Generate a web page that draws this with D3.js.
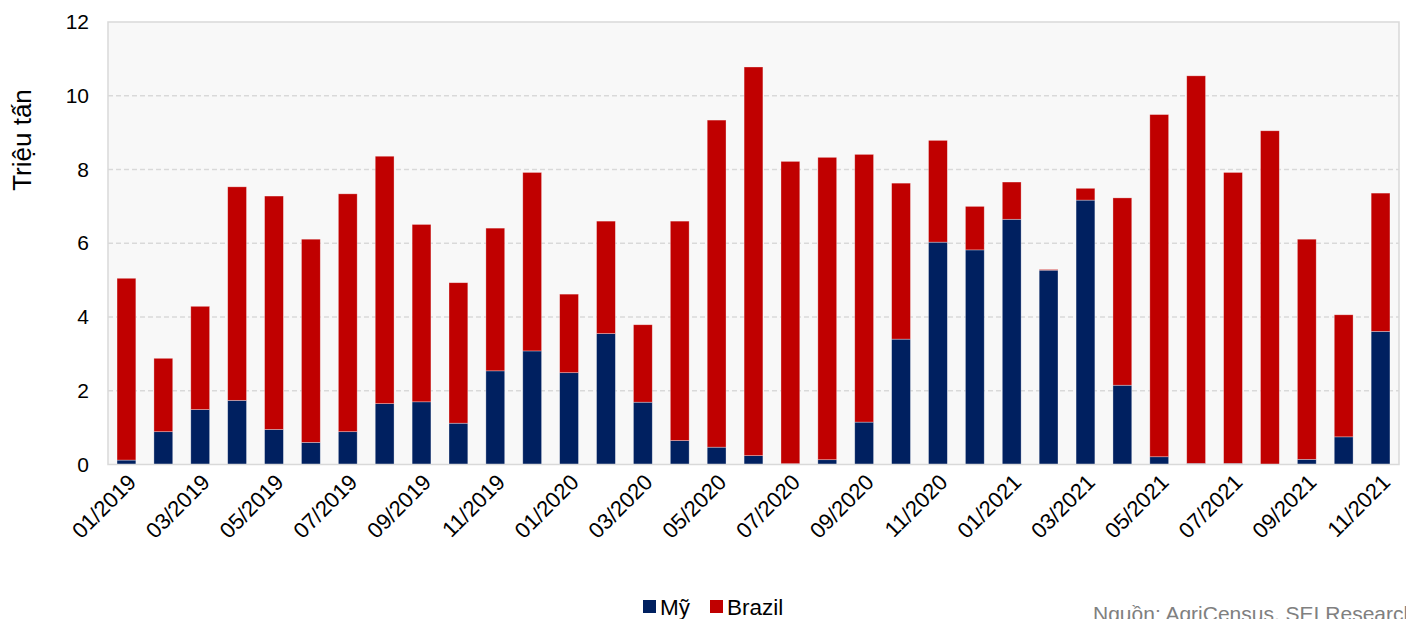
<!DOCTYPE html>
<html>
<head>
<meta charset="utf-8">
<script src="https://cdn.jsdelivr.net/npm/d3@7"></script>
<style>
  body { margin: 0; background: #fff; }
  svg { font-family: 'Liberation Sans', Arial, sans-serif; }
</style>
</head>
<body>
<svg id="chart" width="1406" height="619"></svg>
<script>
const months = [
  '01/2019','02/2019','03/2019','04/2019','05/2019','06/2019','07/2019','08/2019','09/2019','10/2019','11/2019','12/2019',
  '01/2020','02/2020','03/2020','04/2020','05/2020','06/2020','07/2020','08/2020','09/2020','10/2020','11/2020','12/2020',
  '01/2021','02/2021','03/2021','04/2021','05/2021','06/2021','07/2021','08/2021','09/2021','10/2021','11/2021'
];
const usValues = [
  0.12, 0.89, 1.49, 1.74, 0.95, 0.60, 0.89, 1.65, 1.70, 1.12, 2.54, 3.08,
  2.49, 3.55, 1.69, 0.65, 0.47, 0.24, 0.02, 0.13, 1.15, 3.40, 6.03, 5.82,
  6.65, 5.27, 7.17, 2.15, 0.21, 0.03, 0.03, 0.00, 0.14, 0.75, 3.61
];
const brazilValues = [
  4.93, 1.99, 2.80, 5.79, 6.33, 5.51, 6.45, 6.71, 4.81, 3.81, 3.87, 4.84,
  2.13, 3.05, 2.10, 5.95, 8.87, 10.54, 8.20, 8.20, 7.26, 4.23, 2.76, 1.18,
  1.01, 0.02, 0.32, 5.08, 9.28, 10.51, 7.89, 9.05, 5.97, 3.31, 3.75
];
const seriesNames = ['Mỹ', 'Brazil'];
const seriesColors = ['#002060', '#C00000'];
const yTicks = [0, 2, 4, 6, 8, 10, 12];

const svg = d3.select('#chart');
const margin = { top: 22, right: 7, bottom: 154, left: 108 };
const w = 1406, h = 619;

const table = months.map((m, i) => ({ month: m, us: usValues[i], brazil: brazilValues[i] }));
const stack = d3.stack().keys(['us', 'brazil'])(table);

const x = d3.scaleBand()
  .domain(months)
  .range([margin.left, w - margin.right])
  .paddingInner(0.49)
  .paddingOuter(0.245);
const y = d3.scaleLinear()
  .domain([0, 12])
  .range([h - margin.bottom - 0.5, margin.top]);

// plot background
svg.append('rect')
  .attr('x', margin.left)
  .attr('y', margin.top)
  .attr('width', w - margin.left - margin.right)
  .attr('height', y(0) - margin.top)
  .attr('fill', '#f8f8f8');

// grid lines
svg.append('g')
  .selectAll('line')
  .data(yTicks.filter(d => d > 0 && d < 12))
  .join('line')
  .attr('x1', margin.left)
  .attr('x2', w - margin.right)
  .attr('y1', d => y(d))
  .attr('y2', d => y(d))
  .attr('stroke', '#d9d9d9')
  .attr('stroke-width', 1.3)
  .attr('stroke-dasharray', '5,3');

// bars
svg.append('g')
  .selectAll('g')
  .data(stack)
  .join('g')
  .attr('fill', (d, i) => seriesColors[i])
  .selectAll('rect')
  .data(d => d)
  .join('rect')
  .attr('x', d => x(d.data.month))
  .attr('y', d => y(d[1]))
  .attr('width', x.bandwidth())
  .attr('height', d => Math.max(0, y(d[0]) - y(d[1])))
  .attr('stroke', 'rgba(255,255,255,0.45)')
  .attr('stroke-width', 0.7);

// frame
svg.append('rect')
  .attr('x', margin.left)
  .attr('y', margin.top)
  .attr('width', w - margin.left - margin.right)
  .attr('height', y(0) - margin.top)
  .attr('fill', 'none')
  .attr('stroke', '#d9d9d9')
  .attr('stroke-width', 1.5);

// y axis
const yAxis = svg.append('g')
  .attr('transform', `translate(${margin.left}, 0)`)
  .call(d3.axisLeft(y).tickValues(yTicks).tickSize(0).tickPadding(19));
yAxis.select('.domain').remove();
yAxis.selectAll('text')
  .attr('font-family', "'Liberation Sans', Arial, sans-serif")
  .attr('font-size', 21)
  .attr('fill', '#000');

svg.append('text')
  .attr('transform', `translate(31, 140) rotate(-90)`)
  .attr('text-anchor', 'middle')
  .attr('font-size', 26)
  .attr('fill', '#000')
  .text('Triệu tấn');

// x axis
const xAxis = svg.append('g')
  .attr('transform', `translate(0, ${y(0)})`)
  .call(d3.axisBottom(x)
    .tickValues(months.filter((d, i) => i % 2 === 0))
    .tickSize(0)
    .tickPadding(0));
xAxis.select('.domain').remove();
xAxis.selectAll('text')
  .attr('font-family', "'Liberation Sans', Arial, sans-serif")
  .attr('font-size', 22)
  .attr('fill', '#000')
  .attr('text-anchor', 'end')
  .attr('dy', 0)
  .attr('transform', 'translate(11, 19) rotate(-45)');

// legend
const legend = svg.append('g').attr('transform', 'translate(643, 598)');
const legendX = [0, 67];
legend.selectAll('rect')
  .data(seriesNames)
  .join('rect')
  .attr('x', (d, i) => legendX[i])
  .attr('y', 2)
  .attr('width', 13)
  .attr('height', 13)
  .attr('fill', (d, i) => seriesColors[i]);
legend.selectAll('text')
  .data(seriesNames)
  .join('text')
  .attr('x', (d, i) => legendX[i] + 17)
  .attr('y', 17)
  .attr('font-size', 22.5)
  .attr('fill', '#000')
  .text(d => d);

svg.append('text')
  .attr('x', 1093)
  .attr('y', 621)
  .attr('font-size', 21)
  .attr('fill', '#808080')
  .text('Nguồn: AgriCensus, SEI Research');
</script>
</body>
</html>
